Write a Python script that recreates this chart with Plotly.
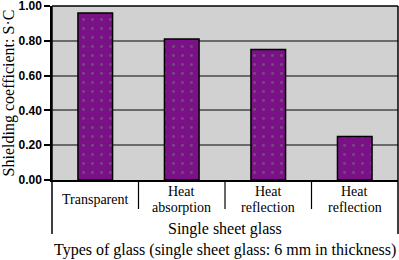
import plotly.graph_objects as go

categories = ["Transparent", "Heat<br>absorption", "Heat<br>reflection", "Heat<br>reflection"]
values = [0.96, 0.81, 0.75, 0.25]
y_ticks = [0.0, 0.2, 0.4, 0.6, 0.8, 1.0]
y_tick_labels = ["0.00", "0.20", "0.40", "0.60", "0.80", "1.00"]
group_label = "Single sheet glass"
x_title = "Types of glass (single sheet glass: 6 mm in thickness)"
y_title = "Shielding coefficient: S·C"

serif = "Liberation Serif, Times New Roman, serif"
top_m, bot_m = 6, 80
plot_h = 260 - top_m - bot_m  # plot area height in px

fig = go.Figure()
fig.add_trace(go.Bar(
    x=list(range(len(categories))), y=values, width=0.4,
    marker=dict(color="#7a1187", line=dict(color="black", width=1.5),
                pattern=dict(shape=".", fgcolor="#6a8a70", size=9, solidity=0.08)),
))

shapes = []
for i in range(len(categories) - 1):
    shapes.append(dict(type="line", xref="x", yref="paper", x0=i + 0.5, x1=i + 0.5,
                       y0=0, y1=-29 / plot_h, line=dict(color="black", width=1.2)))
for xp in (0, 1):
    shapes.append(dict(type="line", xref="paper", yref="paper", x0=xp, x1=xp,
                       y0=1, y1=-54 / plot_h, line=dict(color="black", width=1.5)))
shapes.append(dict(type="line", xref="paper", yref="paper", x0=0, x1=1, y0=1, y1=1,
                   line=dict(color="black", width=1.5)))

fig.update_layout(
    width=399, height=260,
    margin=dict(l=52, r=1, t=top_m, b=bot_m),
    paper_bgcolor="white", plot_bgcolor="#d1d1d1",
    showlegend=False,
    shapes=shapes,
    xaxis=dict(
        tickmode="array", tickvals=list(range(len(categories))), ticktext=categories,
        range=[-0.5, len(categories) - 0.5], automargin=False,
        showgrid=False, showline=True, linecolor="black", linewidth=1.5,
        ticks="", showticklabels=False,
    ),
    yaxis=dict(
        range=[0, 1.0001], tickvals=y_ticks, ticktext=y_tick_labels, automargin=False,
        showgrid=True, gridcolor="#6a6a6a", gridwidth=2,
        showline=True, linecolor="black", linewidth=1.5,
        ticks="outside", ticklen=6, tickcolor="black", tickwidth=1.5,
        ticklabeloverflow="allow",
        tickfont=dict(family="Liberation Sans, Arial, sans-serif", size=12, color="black", weight="bold"),
        title=dict(text=y_title, font=dict(family=serif, size=16, color="black"), standoff=3),
        zeroline=False,
    ),
)

# category labels, each line centred around the middle of the label band
line_px = 16
center_px = 19
for i, cat in enumerate(categories):
    lines = cat.split("<br>")
    n = len(lines)
    for j, ln in enumerate(lines):
        off = center_px + (j - (n - 1) / 2) * line_px
        fig.add_annotation(text=ln, xref="x", yref="paper", x=i, y=-off / plot_h,
                           showarrow=False, yanchor="middle",
                           font=dict(family=serif, size=14, color="black"))

fig.add_annotation(text=group_label, xref="paper", yref="paper", x=0.5, y=-49 / plot_h,
                   showarrow=False, font=dict(family=serif, size=16, color="black"),
                   yanchor="middle")
fig.add_annotation(text=x_title, xref="paper", yref="paper", x=1.0, y=-70 / plot_h,
                   xanchor="right", yanchor="middle",
                   showarrow=False, font=dict(family=serif, size=16, color="black"))
fig.write_html("out.html", config={"displayModeBar": False},
               post_script="document.body.style.margin='0';document.body.style.overflow='hidden';")
